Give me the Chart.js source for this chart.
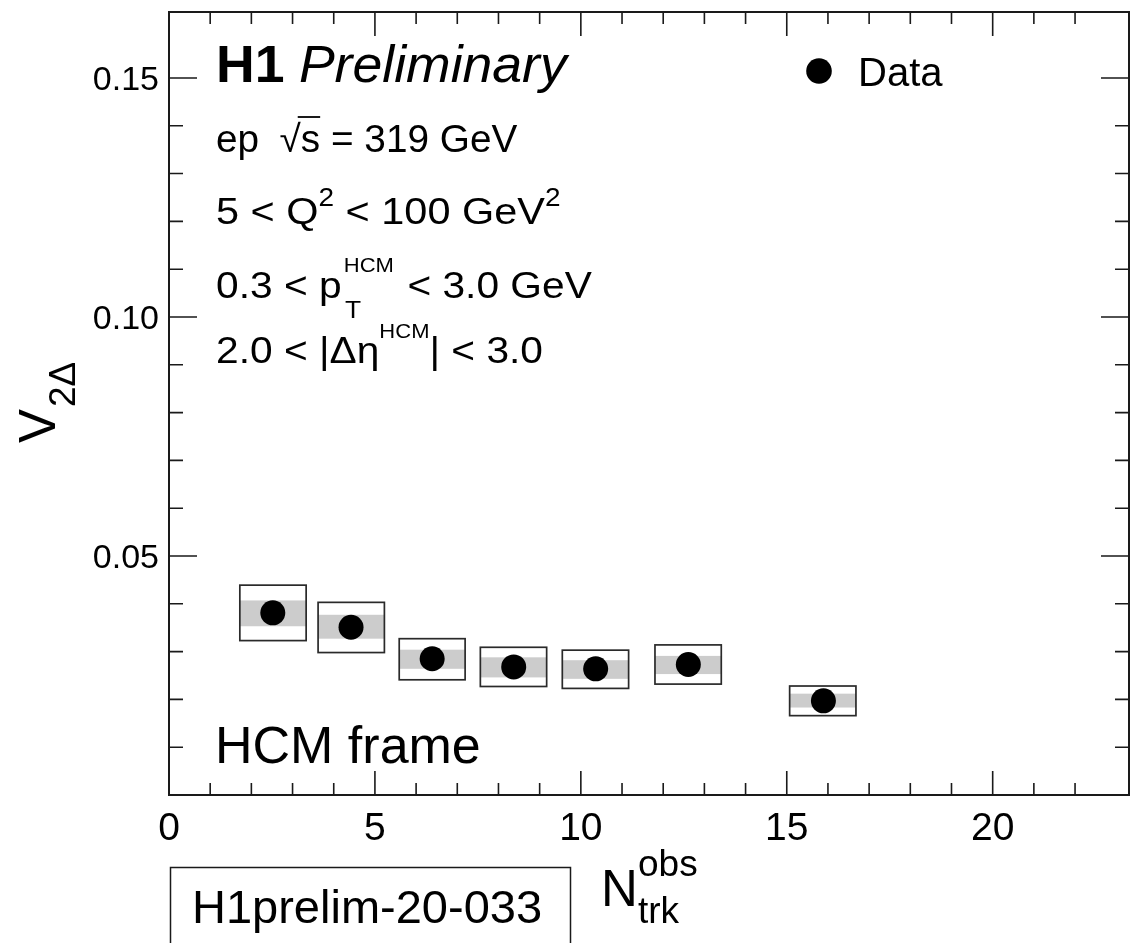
<!DOCTYPE html>
<html><head><meta charset="utf-8">
<script src="https://cdn.jsdelivr.net/npm/chart.js@4.4.1/dist/chart.umd.min.js"></script>
<style>html,body{margin:0;padding:0;background:#fff;}#wrap{width:1130px;height:943px;position:relative;}</style>
</head><body><div id="wrap"><canvas id="c" width="1130" height="943"></canvas></div>
<script>
// ---- data ----
const nTrk     = [2.52, 4.42, 6.39, 8.37, 10.36, 12.61, 15.89];
const v2       = [0.0381, 0.0351, 0.0285, 0.0268, 0.0264, 0.0273, 0.0197];
const binLow   = [1.72, 3.62, 5.59, 7.56, 9.55, 11.80, 15.07];
const binHigh  = [3.33, 5.23, 7.19, 9.17, 11.16, 13.41, 16.68];
const sysLow   = [0.0323, 0.0298, 0.0241, 0.0227, 0.0223, 0.0232, 0.0166];
const sysHigh  = [0.0439, 0.0403, 0.0327, 0.0309, 0.0303, 0.0314, 0.0228];
const bandLow  = [0.0353, 0.0327, 0.0264, 0.0246, 0.0243, 0.0253, 0.0183];
const bandHigh = [0.0407, 0.0377, 0.0304, 0.0288, 0.0282, 0.0291, 0.0212];
const xTickLabels = ['0', '5', '10', '15', '20'];
const yTickLabels = ['0.05', '0.10', '0.15'];

const FONT = "'Liberation Sans', Arial, Helvetica, sans-serif";
const f = (size, style) => (style ? style + ' ' : '') + size + 'px ' + FONT;

// draw a line of text runs (with sub/superscripts) at (x, y), optionally stretched horizontally by sx
function drawRuns(ctx, x, y, runs, sx) {
  ctx.save();
  ctx.translate(x, y);
  ctx.scale(sx || 1, 1);
  let cx = 0;
  for (const r of runs) {
    if (r.stack) {
      let w = 0;
      for (const s of r.stack) {
        ctx.font = s.font;
        ctx.fillText(s.t, cx + (s.dx || 0), s.dy);
        w = Math.max(w, ctx.measureText(s.t).width + (s.dx || 0));
      }
      cx += w + (r.after || 0);
      continue;
    }
    ctx.font = r.font;
    ctx.fillText(r.t, cx, r.dy || 0);
    const w = ctx.measureText(r.t).width;
    if (r.over) {
      ctx.lineWidth = 1.8;
      ctx.beginPath();
      ctx.moveTo(cx - 3, r.over);
      ctx.lineTo(cx + w, r.over);
      ctx.stroke();
    }
    cx += w + (r.after || 0);
  }
  ctx.restore();
}

const rootPlugin = {
  id: 'rootStyle',
  beforeDatasetsDraw(chart) {
    const {ctx, scales: {x, y}} = chart;
    ctx.save();
    for (let i = 0; i < nTrk.length; i++) {
      const l = x.getPixelForValue(binLow[i]), r = x.getPixelForValue(binHigh[i]);
      const bt = y.getPixelForValue(bandHigh[i]), bb = y.getPixelForValue(bandLow[i]);
      ctx.fillStyle = '#cccccc';
      ctx.fillRect(l, bt, r - l, bb - bt);
      const st = y.getPixelForValue(sysHigh[i]), sb = y.getPixelForValue(sysLow[i]);
      ctx.strokeStyle = '#2a2a2a';
      ctx.lineWidth = 1.7;
      ctx.strokeRect(l, st, r - l, sb - st);
    }
    ctx.restore();
  },
  afterDraw(chart) {
    const {ctx, chartArea: a, scales: {x, y}} = chart;
    ctx.save();
    ctx.strokeStyle = '#1a1a1a';
    // frame
    ctx.lineWidth = 2;
    ctx.strokeRect(a.left, a.top, a.right - a.left, a.bottom - a.top);
    // ticks (ROOT style: inward, on all four sides)
    ctx.lineWidth = 1.6;
    ctx.beginPath();
    for (const t of x.ticks) {
      const v = t.value;
      if (Math.abs(v - Math.round(v)) > 1e-6 || v <= 0) continue;
      const px = x.getPixelForValue(v);
      if (px >= a.right - 1) continue;
      const len = Math.round(v) % 5 === 0 ? 24 : 12;
      ctx.moveTo(px, a.bottom); ctx.lineTo(px, a.bottom - len);
      ctx.moveTo(px, a.top); ctx.lineTo(px, a.top + len);
    }
    for (const t of y.ticks) {
      const k = t.value * 100;
      if (Math.abs(k - Math.round(k)) > 1e-6 || k < 0.5) continue;
      const py = y.getPixelForValue(t.value);
      if (py <= a.top + 1) continue;
      const len = Math.round(k) % 5 === 0 ? 28 : 14;
      ctx.moveTo(a.left, py); ctx.lineTo(a.left + len, py);
      ctx.moveTo(a.right, py); ctx.lineTo(a.right - len, py);
    }
    ctx.stroke();

    // texts
    ctx.fillStyle = '#000';
    ctx.strokeStyle = '#000';
    ctx.textBaseline = 'alphabetic';
    ctx.textAlign = 'left';
    drawRuns(ctx, 216, 82, [
      {t: 'H1', font: f(52, 'bold'), after: 14},
      {t: 'Preliminary', font: f(52, 'italic')}
    ], 1.03);
    drawRuns(ctx, 216, 152, [
      {t: 'ep', font: f(38), after: 20},
      {t: '\u221A', font: f(38), after: 0},
      {t: 's', font: f(38), over: -35},
      {t: ' = 319 GeV', font: f(38)}
    ], 1.02);
    drawRuns(ctx, 216, 224, [
      {t: '5 < Q', font: f(37)},
      {t: '2', font: f(25), dy: -18},
      {t: ' < 100 GeV', font: f(37)},
      {t: '2', font: f(25), dy: -18}
    ], 1.12);
    drawRuns(ctx, 216, 298, [
      {t: '0.3 < p', font: f(37), after: 2},
      {stack: [{t: 'T', font: f(24), dy: 20, dx: 1}, {t: 'HCM', font: f(20), dy: -26}], after: 2},
      {t: ' < 3.0 GeV', font: f(37)}
    ], 1.1);
    drawRuns(ctx, 216, 363, [
      {t: '2.0 < |\u0394\u03B7', font: f(37), after: 0},
      {t: 'HCM', font: f(20), dy: -25, after: 0},
      {t: '| < 3.0', font: f(37)}
    ], 1.1);
    ctx.font = f(52);
    ctx.fillText('HCM frame', 215, 763);

    // legend
    const ds = chart.data.datasets[0];
    ctx.beginPath();
    ctx.fillStyle = ds.backgroundColor;
    ctx.arc(819, 71, 12.8, 0, Math.PI * 2);
    ctx.fill();
    ctx.fillStyle = '#000';
    ctx.font = f(40);
    ctx.fillText(ds.label, 858, 86);

    // x title
    ctx.font = f(51);
    ctx.fillText('N', 601, 906);
    ctx.font = f(37);
    ctx.fillText('obs', 638, 876);
    ctx.fillText('trk', 638, 923);

    // y title
    ctx.save();
    ctx.translate(55, 443);
    ctx.rotate(-Math.PI / 2);
    ctx.font = f(51);
    ctx.fillText('V', 0, 0);
    const vw = ctx.measureText('V').width;
    ctx.font = f(37);
    ctx.fillText('2\u0394', vw + 2, 20);
    ctx.restore();

    // prelim box
    ctx.lineWidth = 1.5;
    ctx.strokeStyle = '#1a1a1a';
    ctx.strokeRect(170.5, 867.5, 400, 90);
    ctx.font = f(47);
    ctx.fillText('H1prelim-20-033', 192, 923);
    ctx.restore();
  }
};

function zeroPad(s) { s.paddingTop = 0; s.paddingBottom = 0; s.paddingLeft = 0; s.paddingRight = 0; }

const ctx = document.getElementById('c').getContext('2d');
new Chart(ctx, {
  type: 'scatter',
  data: {
    datasets: [{
      label: 'Data',
      data: nTrk.map((xv, i) => ({x: xv, y: v2[i]})),
      pointRadius: 12.5,
      pointHoverRadius: 12.5,
      backgroundColor: '#000',
      borderColor: '#000',
      borderWidth: 0
    }]
  },
  options: {
    responsive: false,
    animation: false,
    devicePixelRatio: 1,
    events: [],
    layout: {autoPadding: false, padding: {top: 12, right: 1, left: 0, bottom: 0}},
    plugins: {legend: {display: false}, tooltip: {enabled: false}},
    scales: {
      x: {
        type: 'linear', min: 0, max: 23.31,
        afterFit(s) { s.height = 148; zeroPad(s); },
        grid: {display: false, drawTicks: false},
        border: {display: false},
        ticks: {
          stepSize: 1, autoSkip: false, maxRotation: 0, minRotation: 0, padding: 11,
          color: '#000', font: {family: FONT, size: 39},
          callback: v => { const s = String(Math.round(v)); return (Math.abs(v - Math.round(v)) < 1e-6 && xTickLabels.includes(s)) ? s : ''; }
        }
      },
      y: {
        type: 'linear', min: 0, max: 0.1638,
        afterFit(s) { s.width = 169; zeroPad(s); },
        grid: {display: false, drawTicks: false},
        border: {display: false},
        ticks: {
          stepSize: 0.01, autoSkip: false, padding: 10, labelOffset: 3,
          color: '#000', font: {family: FONT, size: 34},
          callback: v => { const s = v.toFixed(2); return (Math.abs(v * 100 - Math.round(v * 100)) < 1e-6 && yTickLabels.includes(s)) ? s : ''; }
        }
      }
    }
  },
  plugins: [rootPlugin]
});
</script>
</body></html>
